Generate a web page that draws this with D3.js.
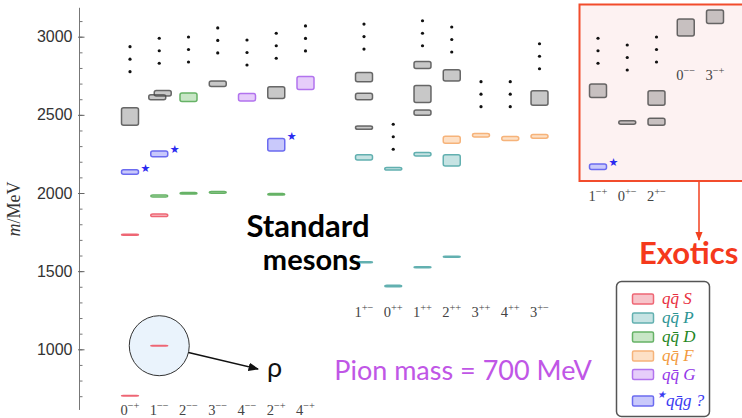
<!DOCTYPE html>
<html>
<head>
<meta charset="utf-8">
<script src="https://cdn.jsdelivr.net/npm/d3@7"></script>
<style>
  body { margin: 0; background: #fff; }
  svg { display: block; }
  .tick text { font-family: 'Liberation Sans', Arial, sans-serif; font-size: 16px; fill: #333; }
  .jpc { font-family: 'Liberation Serif', serif; font-size: 14.5px; fill: #444; }
</style>
</head>
<body>
<div id="chart"></div>
<script>
var WIDTH = 742
var HEIGHT = 418

// column slots left to right, null = gap between groups
var slots = ['0-+', '1--', '2--', '3--', '4--', '2-+', '4-+', null,
    '1+-', '0++', '1++', '2++', '3++', '4++', '3+-', null,
    '1-+', '0+-', '2+-', '0--', '3-+']

var standardLow = ['0-+', '1--', '2--', '3--', '4--', '2-+', '4-+']
var standardHigh = ['1+-', '0++', '1++', '2++', '3++', '4++', '3+-']
var exoticLow = ['1-+', '0+-', '2+-']
var exoticHigh = ['0--', '3-+']

// [column, mass MeV, half width MeV, multiplet]
var levels = [
    ['0-+', 703, 2, 'S'], ['0-+', 1733, 3, 'S'], ['0-+', 2134, 14, 'H'], ['0-+', 2489, 56, 'X'],
    ['1--', 1023, 2, 'S'], ['1--', 1857, 8, 'S'], ['1--', 1981, 6, 'D'], ['1--', 2250, 18, 'H'],
    ['1--', 2612, 16, 'X'], ['1--', 2638, 18, 'X'],
    ['2--', 1998, 5, 'D'], ['2--', 2613, 27, 'D'],
    ['3--', 2004, 5, 'D'], ['3--', 2699, 18, 'X'],
    ['4--', 2613, 24, 'G'],
    ['2-+', 1992, 5, 'D'], ['2-+', 2309, 40, 'H'], ['2-+', 2642, 37, 'X'],
    ['4-+', 2704, 42, 'G'],
    ['1+-', 1557, 3, 'P'], ['1+-', 2228, 17, 'P'], ['1+-', 2418, 10, 'X'], ['1+-', 2617, 21, 'X'], ['1+-', 2741, 30, 'X'],
    ['0++', 1405, 5, 'P'], ['0++', 2155, 8, 'P'],
    ['1++', 1525, 3, 'P'], ['1++', 2248, 11, 'P'], ['1++', 2514, 17, 'X'], ['1++', 2633, 54, 'X'], ['1++', 2819, 23, 'X'],
    ['2++', 1592, 3, 'P'], ['2++', 2209, 36, 'P'], ['2++', 2341, 22, 'F'], ['2++', 2753, 36, 'X'],
    ['3++', 2370, 11, 'F'],
    ['4++', 2349, 13, 'F'],
    ['3+-', 2363, 12, 'F'], ['3+-', 2608, 46, 'X'],
    ['1-+', 2168, 17, 'H'], ['1-+', 2654, 43, 'X'],
    ['0+-', 2451, 11, 'X'],
    ['2+-', 2456, 23, 'X'], ['2+-', 2608, 46, 'X'],
    ['0--', 3059, 54, 'X'],
    ['3-+', 3128, 43, 'X']
]

// lowest dot of each "more states" ellipsis
var ellipses = [
    ['0-+', 2776], ['1--', 2830], ['2--', 2838], ['3--', 2896], ['4--', 2819], ['2-+', 2862], ['4-+', 2909],
    ['1+-', 2921], ['0++', 2280], ['1++', 2942], ['2++', 2902], ['3++', 2552], ['4++', 2552], ['3+-', 2795],
    ['1-+', 2830], ['0+-', 2787], ['2+-', 2838]
]

var majorTicks = [1000, 1500, 2000, 2500, 3000]
var minorTicks = d3.range(700, 3200, 100)

var legendRows = [['S', 'S'], ['P', 'P'], ['D', 'D'], ['F', 'F'], ['G', 'G'], ['H', '?']]

var fills = { S: '#f7c4ca', P: '#c6e3e3', D: '#c8e6c6', F: '#fde0c6', G: '#e6cdfa', H: '#c9c9fb', X: 'rgba(110,110,110,0.38)' }
var strokes = { S: '#ee6674', P: '#62b0b0', D: '#66b266', F: '#f6b37a', G: '#b273ee', H: '#6b6bf0', X: 'rgba(70,70,70,0.8)' }
var inks = { S: '#e8303f', P: '#2c9494', D: '#1f861f', F: '#f29a40', G: '#9438e8', H: '#3a3af2' }

var svg = d3.select('#chart').append('svg')
    .attr('width', WIDTH)
    .attr('height', HEIGHT)

var x = d3.scalePoint()
    .domain(slots.map(function (s, i) { return s || 'gap' + i }))
    .range([130, 715])

var y = d3.scaleLinear()
    .domain([1000, 3000])
    .range([349.3, 36.7])

// exotic panel
svg.append('rect')
    .attr('x', 579.5).attr('y', 4.5)
    .attr('width', 175).attr('height', 176.5)
    .attr('fill', '#fdf2f2')
    .attr('stroke', '#f24c2c')
    .attr('stroke-width', 2)

// axis
var axisG = svg.append('g').attr('transform', 'translate(79.5,0)')
axisG.append('line')
    .attr('y1', y(3185)).attr('y2', y(612))
    .attr('stroke', '#777')
axisG.append('g')
    .call(d3.axisLeft(y).tickValues(minorTicks).tickSize(-3).tickFormat(''))
    .call(function (g) { g.select('.domain').remove() })
    .selectAll('line').attr('stroke', '#777')
axisG.append('g')
    .call(d3.axisLeft(y).tickValues(majorTicks).tickSize(-5).tickPadding(7).tickFormat(d3.format('d')))
    .call(function (g) { g.select('.domain').remove() })
    .selectAll('line').attr('stroke', '#666').attr('x1', -1.5)

svg.append('text')
    .attr('transform', 'translate(20,209) rotate(-90)')
    .attr('text-anchor', 'middle')
    .attr('font-family', 'Liberation Serif, serif')
    .attr('font-size', 18)
    .attr('fill', '#333')
    .html('<tspan font-style="italic">m</tspan>/MeV')

// rho highlight
var rho = levels.filter(function (d) { return d[0] === '1--' && d[3] === 'S' })[0]
var rx = x(rho[0]), ry = y(rho[1])
svg.append('circle')
    .attr('cx', rx).attr('cy', ry).attr('r', 30)
    .attr('fill', '#eaf3fc')
    .attr('stroke', '#333')
    .attr('stroke-width', 1)

svg.append('defs').append('marker')
    .attr('id', 'head').attr('viewBox', '0 0 10 10')
    .attr('refX', 9).attr('refY', 5)
    .attr('markerWidth', 7).attr('markerHeight', 7)
    .attr('orient', 'auto')
    .append('path').attr('d', 'M0,1 L10,5 L0,9 z').attr('fill', '#111')

var ang = Math.atan2(369 - ry, 258 - rx)
svg.append('line')
    .attr('x1', rx + 30 * Math.cos(ang)).attr('y1', ry + 30 * Math.sin(ang))
    .attr('x2', 258).attr('y2', 369)
    .attr('stroke', '#111').attr('stroke-width', 1.5)
    .attr('marker-end', 'url(#head)')

svg.append('text')
    .attr('x', 267).attr('y', 377)
    .attr('font-family', 'Lato, sans-serif')
    .attr('font-size', 27)
    .attr('fill', '#111')
    .text('ρ')

// nudge overlapping states in the same column apart
var boxW = 17
var placed = levels.map(function (d) {
    return { col: d[0], m: d[1], e: d[2], type: d[3], dx: 0 }
})
placed.forEach(function (a, i) {
    placed.forEach(function (b, j) {
        if (j > i && a.col === b.col && Math.abs(a.m - b.m) < a.e + b.e) {
            a.dx = -2
            b.dx = 3.5
        }
    })
})

svg.append('g').selectAll('rect')
    .data(placed)
    .join('rect')
    .attr('x', function (d) { return x(d.col) + d.dx - boxW / 2 })
    .attr('y', function (d) { return y(d.m + d.e) })
    .attr('width', boxW)
    .attr('height', function (d) { return Math.max(y(d.m - d.e) - y(d.m + d.e), 0.5) })
    .attr('rx', 2)
    .attr('fill', function (d) { return fills[d.type] })
    .attr('stroke', function (d) { return strokes[d.type] })
    .attr('stroke-width', 1.5)

svg.append('g').selectAll('text')
    .data(placed.filter(function (d) { return d.type === 'H' }))
    .join('text')
    .attr('x', function (d) { return x(d.col) + boxW / 2 + 2 })
    .attr('y', function (d) { return y(d.m + d.e) + 2 })
    .attr('font-size', 11)
    .attr('fill', '#2a2af0')
    .attr('font-family', 'DejaVu Sans, sans-serif')
    .text('★')

// vertical ellipses
var dotG = svg.append('g')
ellipses.forEach(function (d) {
    [0, 12.5, 25].forEach(function (off) {
        dotG.append('circle')
            .attr('cx', x(d[0]))
            .attr('cy', y(d[1]) - off)
            .attr('r', 1.6)
            .attr('fill', '#111')
    })
})

// J^PC labels
function jpcLabels(cols, baseline) {
    svg.append('g').selectAll('text')
        .data(cols)
        .join('text')
        .attr('class', 'jpc')
        .attr('x', function (d) { return x(d) })
        .attr('y', baseline)
        .attr('text-anchor', 'middle')
        .html(function (d) {
            var pc = d.slice(1).replace(/-/g, '−')
            return d[0] + '<tspan dy="-6" font-size="10.5">' + pc + '</tspan>'
        })
}
jpcLabels(standardLow, 415)
jpcLabels(standardHigh, 316.5)
jpcLabels(exoticLow, 201)
jpcLabels(exoticHigh, 80)

// annotations
svg.append('text')
    .attr('x', 308).attr('y', 237)
    .attr('text-anchor', 'middle')
    .attr('font-family', 'Lato, sans-serif')
    .attr('font-weight', 'bold')
    .attr('font-size', 31)
    .attr('fill', '#000')
    .text('Standard')
svg.append('text')
    .attr('x', 312).attr('y', 270)
    .attr('text-anchor', 'middle')
    .attr('font-family', 'Lato, sans-serif')
    .attr('font-weight', 'bold')
    .attr('font-size', 29)
    .attr('fill', '#000')
    .text('mesons')

svg.append('text')
    .attr('x', 463).attr('y', 380)
    .attr('text-anchor', 'middle')
    .attr('font-family', 'Lato, sans-serif')
    .attr('font-size', 27)
    .attr('fill', '#c056e6')
    .text('Pion mass = 700 MeV')

svg.select('defs').append('marker')
    .attr('id', 'redhead').attr('viewBox', '0 0 10 10')
    .attr('refX', 9).attr('refY', 5)
    .attr('markerWidth', 6).attr('markerHeight', 6)
    .attr('orient', 'auto')
    .append('path').attr('d', 'M0,1 L10,5 L0,9 z').attr('fill', '#f2401f')
svg.append('line')
    .attr('x1', 699).attr('y1', 182)
    .attr('x2', 699).attr('y2', 240)
    .attr('stroke', '#f2401f').attr('stroke-width', 1.5)
    .attr('marker-end', 'url(#redhead)')
svg.append('text')
    .attr('x', 639).attr('y', 264)
    .attr('font-family', 'Lato, sans-serif')
    .attr('font-weight', 'bold')
    .attr('font-size', 31)
    .attr('fill', '#f5391c')
    .text('Exotics')

// legend
var legend = svg.append('g')
legend.append('rect')
    .attr('x', 616.5).attr('y', 281.5)
    .attr('width', 93).attr('height', 135)
    .attr('rx', 5)
    .attr('fill', '#fff')
    .attr('stroke', '#555')
    .attr('stroke-width', 1.5)

var rowY = [299, 318, 337, 356, 374.5, 401]
legendRows.forEach(function (r, i) {
    var t = r[0]
    legend.append('rect')
        .attr('x', 632.5).attr('y', rowY[i] - 5)
        .attr('width', 21).attr('height', 10)
        .attr('rx', 1.5)
        .attr('fill', fills[t])
        .attr('stroke', strokes[t])
        .attr('stroke-width', 1.5)
    var txt = legend.append('text')
        .attr('x', 662).attr('y', rowY[i] + 5)
        .attr('font-family', 'Liberation Serif, serif')
        .attr('font-style', 'italic')
        .attr('font-size', 17)
        .attr('fill', inks[t])
    if (t === 'H') {
        txt.html('<tspan font-size="10" dy="-8" dx="-5">★</tspan><tspan dy="8">qq̄g ' + r[1] + '</tspan>')
    } else {
        txt.text('qq̄ ' + r[1])
    }
})
</script>
</body>
</html>
